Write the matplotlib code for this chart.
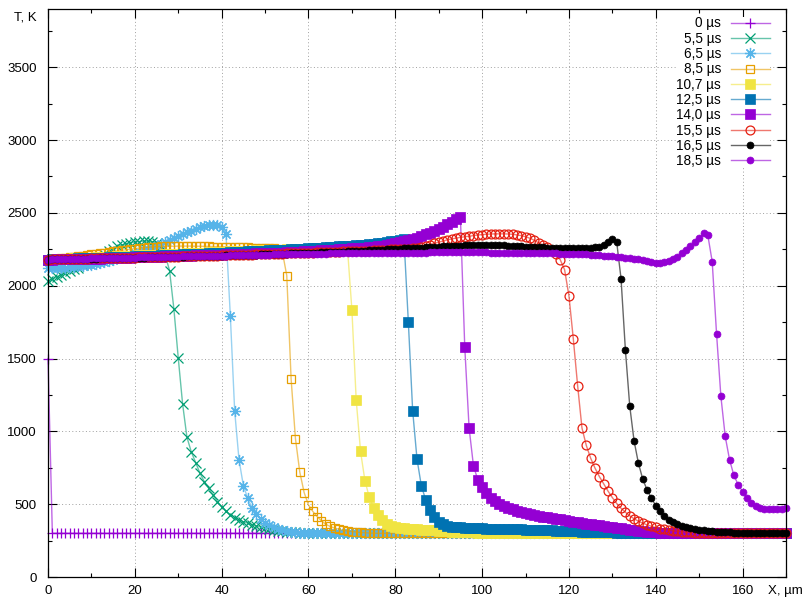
import matplotlib
matplotlib.use("Agg")
import matplotlib.pyplot as plt
from matplotlib.ticker import MultipleLocator
from matplotlib.colors import to_rgba

plt.rcParams['font.family'] = ['Liberation Sans', 'DejaVu Sans']

# x grid (µm), one sample per micrometre
X_UM = list(range(0, 171))

LABELS = ["0 µs", "5,5 µs", "6,5 µs", "8,5 µs", "10,7 µs",
          "12,5 µs", "14,0 µs", "15,5 µs", "16,5 µs", "18,5 µs"]

T_0 = [1500] + [300] * 170

T_5_5 = [2030, 2045, 2060, 2075, 2088, 2100, 2112, 2125, 2140, 2155,
         2168, 2185, 2200, 2218, 2235, 2255, 2270, 2280, 2288, 2295,
         2300, 2303, 2306, 2306, 2303, 2295, 2275, 2210, 2104, 1840,
         1505, 1190, 960, 860, 786, 713, 655, 610, 564, 518,
         484, 450, 428, 408, 392, 380, 370, 360, 351, 343,
         336, 330, 324, 319, 315, 311, 308, 306, 304, 302,
         301] + [300] * 110

T_6_5 = [2120, 2121, 2122, 2123, 2125, 2127, 2130, 2133, 2136, 2140,
         2145, 2150, 2157, 2164, 2172, 2180, 2188, 2196, 2205, 2214,
         2223, 2232, 2242, 2252, 2262, 2273, 2285, 2298, 2312, 2326,
         2340, 2354, 2366, 2378, 2390, 2400, 2408, 2415, 2420, 2418,
         2400, 2352, 1795, 1140, 805, 628, 541, 475, 430, 397,
         372, 354, 340, 330, 322, 316, 311, 307, 304, 302,
         301] + [300] * 110

T_8_5 = [2180, 2183, 2186, 2189, 2192, 2195, 2199, 2203, 2207, 2211,
         2215, 2219, 2223, 2227, 2231, 2235, 2239, 2243, 2247, 2251,
         2255, 2258, 2261, 2264, 2266, 2268, 2270, 2270, 2271, 2271,
         2272, 2272, 2272, 2272, 2271, 2271, 2270, 2270, 2269, 2269,
         2268, 2268, 2267, 2266, 2265, 2264, 2263, 2262, 2261, 2260,
         2259, 2258, 2256, 2250, 2230, 2070, 1360, 950, 720, 580,
         495, 450, 415, 385, 362, 347, 336, 328, 321, 316,
         312, 309, 306, 304, 302, 301] + [300] * 95

T_10_7 = [2180, 2181, 2182, 2184, 2185, 2186, 2188, 2189, 2190, 2192,
          2193, 2194, 2196, 2197, 2198, 2200, 2201, 2202, 2204, 2205,
          2206, 2208, 2209, 2210, 2212, 2213, 2214, 2216, 2217, 2218,
          2220, 2221, 2222, 2224, 2225, 2226, 2228, 2229, 2230, 2232,
          2233, 2234, 2235, 2237, 2238, 2239, 2240, 2241, 2242, 2243,
          2244, 2245, 2246, 2247, 2248, 2249, 2250, 2251, 2252, 2253,
          2254, 2255, 2256, 2257, 2258, 2259, 2260, 2261, 2260, 2250,
          1836, 1213, 862, 662, 548, 477, 426, 392, 366, 350,
          342, 338, 335, 332, 330, 328, 326, 324, 322, 320,
          318, 316, 314, 312, 310, 309, 308, 307, 306, 305,
          304, 303, 302, 301] + [300] * 67

T_12_5 = [2180, 2181, 2182, 2183, 2184, 2185, 2186, 2187, 2188, 2189,
          2190, 2191, 2192, 2193, 2194, 2195, 2196, 2197, 2198, 2200,
          2201, 2202, 2203, 2205, 2206, 2207, 2208, 2210, 2211, 2212,
          2213, 2215, 2216, 2217, 2218, 2220, 2221, 2222, 2224, 2225,
          2226, 2228, 2229, 2230, 2232, 2233, 2235, 2236, 2238, 2239,
          2241, 2242, 2244, 2245, 2247, 2248, 2250, 2252, 2253, 2255,
          2256, 2258, 2260, 2262, 2264, 2266, 2268, 2270, 2272, 2274,
          2276, 2278, 2280, 2283, 2286, 2289, 2292, 2296, 2300, 2305,
          2310, 2316, 2322,
          1754, 1142, 810, 626, 530, 461, 415,
          380, 364, 352, 346, 342, 340, 338, 337, 336, 335,
          334, 333, 333, 332, 332, 331, 330, 329, 328, 327,
          326, 325, 324, 323, 322, 321, 320, 319, 318, 316,
          315, 314, 313, 312, 311, 310, 309, 308, 307, 306,
          306, 305, 305, 304, 303, 303, 302, 301, 301, 300] + [300] * 31

T_14_0 = [2180, 2180, 2181, 2181, 2182, 2182, 2183, 2183, 2184, 2184,
          2185, 2185, 2186, 2187, 2188, 2189, 2190, 2191, 2192, 2193,
          2194, 2195, 2196, 2197, 2198, 2199, 2200, 2201, 2202, 2203,
          2204, 2205, 2206, 2207, 2208, 2209, 2210, 2211, 2212, 2213,
          2214, 2215, 2216, 2217, 2218, 2219, 2220, 2221, 2222, 2223,
          2224, 2225, 2226, 2227, 2228, 2230, 2231, 2232, 2234, 2235,
          2237, 2238, 2240, 2242, 2244, 2246, 2248, 2250, 2252, 2254,
          2256, 2258, 2260, 2262, 2264, 2266, 2270, 2274, 2280, 2286,
          2292, 2299, 2306, 2314, 2322, 2331, 2341, 2352, 2364, 2377,
          2391, 2406, 2422, 2438, 2455, 2472,
          1580, 1023, 765, 667,
          621, 578, 545, 520, 503, 488, 475, 465, 456, 448,
          440, 434, 427, 421, 415, 410, 405, 400, 395, 390,
          385, 381, 376, 372, 367, 363, 358, 354, 350, 346,
          342, 338, 334, 330, 326, 322, 318, 315, 312, 309,
          306, 304, 302, 301] + [300] * 27

T_15_5 = [2180, 2181, 2181, 2182, 2183, 2183, 2184, 2185, 2185, 2186,
          2187, 2187, 2188, 2189, 2189, 2190, 2191, 2191, 2192, 2193,
          2193, 2194, 2195, 2195, 2196, 2197, 2197, 2198, 2199, 2199,
          2200, 2201, 2202, 2202, 2203, 2204, 2205, 2205, 2206, 2207,
          2208, 2209, 2210, 2210, 2211, 2212, 2213, 2214, 2215, 2216,
          2217, 2218, 2219, 2220, 2221, 2222, 2223, 2224, 2225, 2226,
          2227, 2228, 2229, 2230, 2231, 2232, 2233, 2234, 2235, 2236,
          2237, 2238, 2239, 2240, 2241, 2242, 2244, 2246, 2248, 2250,
          2251, 2252, 2253, 2255, 2257, 2262, 2268, 2275, 2283, 2291,
          2299, 2307, 2315, 2321, 2327, 2332, 2336, 2340, 2344, 2348,
          2351, 2353, 2355, 2356, 2356, 2356, 2355, 2353, 2349, 2344,
          2336, 2326, 2312, 2295, 2280, 2265, 2245, 2220, 2178, 2110,
          1930, 1637, 1314, 1023, 903, 816, 748, 690, 640, 590,
          545, 505, 472, 445, 420, 400, 383, 370, 358, 348,
          340, 333, 327, 322, 318, 314, 311, 308, 306, 304,
          302, 301] + [300] * 19

T_16_5 = [2180, 2181, 2181, 2182, 2182, 2183, 2183, 2184, 2184, 2185,
          2186, 2186, 2187, 2187, 2188, 2189, 2189, 2190, 2191, 2191,
          2192, 2193, 2193, 2194, 2195, 2195, 2196, 2197, 2198, 2198,
          2199, 2200, 2201, 2201, 2202, 2203, 2204, 2205, 2205, 2206,
          2207, 2208, 2209, 2210, 2211, 2212, 2212, 2213, 2214, 2215,
          2216, 2217, 2218, 2219, 2220, 2221, 2222, 2223, 2224, 2225,
          2226, 2227, 2228, 2229, 2230, 2231, 2232, 2233, 2234, 2236,
          2237, 2238, 2240, 2241, 2243, 2244, 2246, 2247, 2249, 2251,
          2252, 2254, 2256, 2257, 2259, 2261, 2262, 2264, 2266, 2267,
          2269, 2270, 2272, 2273, 2274, 2276, 2277, 2278, 2279, 2280,
          2281, 2281, 2281, 2280, 2279, 2278, 2276, 2274, 2272, 2270,
          2268, 2267, 2265, 2264, 2263, 2262, 2261, 2260, 2260, 2259,
          2258, 2257, 2256, 2256, 2258, 2260, 2263, 2268, 2280, 2300,
          2322, 2300, 2049, 1561, 1175, 935, 782, 672, 598, 541,
          490, 450, 418, 394, 376, 362, 352, 344, 337, 331,
          326, 322, 318, 315, 312, 310, 308, 306, 304, 303,
          302, 301] + [300] * 9

T_18_5 = [2180, 2181, 2181, 2182, 2183, 2183, 2184, 2185, 2185, 2186,
          2187, 2187, 2188, 2189, 2189, 2190, 2191, 2191, 2192, 2193,
          2193, 2194, 2195, 2195, 2196, 2197, 2197, 2198, 2199, 2199,
          2200, 2201, 2201, 2202, 2203, 2203, 2204, 2205, 2205, 2206,
          2207, 2207, 2208, 2209, 2209, 2210, 2211, 2211, 2212, 2213,
          2213, 2214, 2215, 2215, 2216, 2217, 2217, 2218, 2218, 2219,
          2219, 2220, 2220, 2221, 2221, 2222, 2222, 2223, 2223, 2224,
          2224, 2224, 2225, 2225, 2225, 2226, 2226, 2226, 2227, 2227,
          2227, 2227, 2228, 2228, 2228, 2228, 2228, 2228, 2229, 2229,
          2229, 2229, 2229, 2229, 2229, 2229, 2229, 2229, 2229, 2229,
          2229, 2229, 2228, 2228, 2228, 2228, 2227, 2227, 2226, 2226,
          2225, 2225, 2224, 2224, 2223, 2223, 2222, 2222, 2221, 2220,
          2219, 2218, 2217, 2216, 2215, 2213, 2211, 2209, 2207, 2205,
          2202, 2199, 2196, 2193, 2190, 2186, 2181, 2176, 2170, 2164,
          2158, 2157, 2160, 2168, 2182, 2200, 2222, 2245, 2270, 2297,
          2330, 2360, 2345, 2166, 1671, 1240, 965, 805, 697, 633,
          587, 541, 507, 485, 474, 469, 466, 465, 466, 468,
          472]

SERIES = [T_0, T_5_5, T_6_5, T_8_5, T_10_7, T_12_5, T_14_0, T_15_5, T_16_5, T_18_5]

STYLES = [
    dict(color='#9400d3', marker='+', ms=7.5, filled=True, mew=0.9),
    dict(color='#009e73', marker='x', ms=7.0, filled=True, mew=0.9),
    dict(color='#56b4e9', marker=(8, 2, 0), ms=8.0, filled=True, mew=0.9),
    dict(color='#e69f00', marker='s', ms=6.2, filled=False, mew=0.9),
    dict(color='#f0e442', marker='s', ms=7.0, filled=True, mew=0.5),
    dict(color='#0072b2', marker='s', ms=7.0, filled=True, mew=0.5),
    dict(color='#9400d3', marker='s', ms=7.0, filled=True, mew=0.5),
    dict(color='#e51e10', marker='o', ms=6.4, filled=False, mew=0.9),
    dict(color='#000000', marker='o', ms=5.0, filled=True, mew=0.5),
    dict(color='#9400d3', marker='o', ms=5.0, filled=True, mew=0.5),
]

W, H = 805, 598
fig = plt.figure(figsize=(W / 100, H / 100), dpi=100)
L, R, T, B = 48, 786, 9, 577
ax = fig.add_axes([L / W, (H - B) / H, (R - L) / W, (B - T) / H])

for lab, ys, st in zip(LABELS, SERIES, STYLES):
    c = st['color']
    ax.plot(X_UM, ys, label=lab, lw=1.0, color=to_rgba(c, 0.6), marker=st['marker'],
            ms=st['ms'], mfc=(c if st['filled'] else 'none'), mec=c, mew=st['mew'],
            clip_on=False)

ax.set_xlim(0, 170)
ax.set_ylim(0, 3900)
ax.xaxis.set_major_locator(MultipleLocator(20))
ax.xaxis.set_minor_locator(MultipleLocator(10))
ax.yaxis.set_major_locator(MultipleLocator(500))
ax.yaxis.set_minor_locator(MultipleLocator(250))
ax.set_yticks([0, 500, 1000, 1500, 2000, 2500, 3000, 3500])

ax.tick_params(which='both', direction='in', top=True, right=True, width=0.8,
               labelsize=9.5, colors='black')
ax.tick_params(which='major', length=6.5)
ax.tick_params(which='minor', length=3.2)
ax.tick_params(axis='y', pad=8)
ax.tick_params(axis='x', pad=6)

ax.grid(True, which='major', color='#a0a0a0', linestyle=(0, (1, 2.5)), linewidth=0.7)
ax.set_axisbelow(True)
for sp in ax.spines.values():
    sp.set_linewidth(0.9)
    sp.set_color('black')

leg = ax.legend(loc='upper right', bbox_to_anchor=((770 - L) / (R - L), (B - 16.5) / (B - T)),
                markerfirst=False, frameon=True, facecolor='white', edgecolor='none',
                framealpha=1.0, fontsize=9.8, handlelength=2.9, handletextpad=0.7,
                labelspacing=0.095, borderpad=0.0, borderaxespad=0.0, fancybox=False)
leg.set_zorder(5)

fig.text(37 / W, (H - 18) / H, "T, K", ha='right', va='center', fontsize=9.5)
fig.text(803 / W, (H - 591) / H, "X, µm", ha='right', va='center', fontsize=9.5)

fig.savefig("out.png", dpi=100, facecolor='white')
